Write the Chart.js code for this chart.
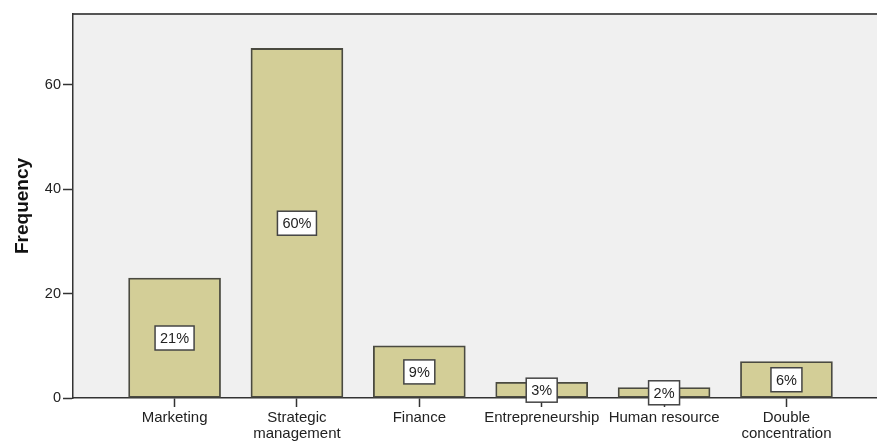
<!DOCTYPE html>
<html>
<head>
<meta charset="utf-8">
<script src="https://cdn.jsdelivr.net/npm/chart.js@4"></script>
<style>
  html, body { margin: 0; padding: 0; background: #fff; }
  #wrap { width: 877px; height: 441px; }
</style>
</head>
<body>
<div id="wrap"><canvas id="chart" width="877" height="441"></canvas></div>
<script>
// Concentration frequencies
var categories = [
  "Marketing",
  ["Strategic", "management"],
  "Finance",
  "Entrepreneurship",
  "Human resource",
  ["Double", "concentration"]
];
var frequencies = [23, 67, 10, 3, 2, 7];
var yTicks = [0, 20, 40, 60];
var yMax = 73.6;
var xMin = -0.83;
var xMax = 5.74;

var total = frequencies.reduce(function (a, b) { return a + b; }, 0);
var percentLabels = frequencies.map(function (v) { return Math.round(v / total * 100) + "%"; });

var FONT = "'Liberation Sans', Arial, sans-serif";
var AXIS = "#333333";

// grey plot background and the top frame line
var plotBackground = {
  id: "plotBackground",
  beforeDraw: function (chart) {
    var ctx = chart.ctx, a = chart.chartArea;
    ctx.save();
    ctx.fillStyle = "#ffffff";
    ctx.fillRect(0, 0, chart.width, chart.height);
    ctx.fillStyle = "#f0f0f0";
    ctx.fillRect(a.left, a.top, a.right - a.left, a.bottom - a.top);
    ctx.strokeStyle = "#555555";
    ctx.lineWidth = 2;
    ctx.beginPath();
    ctx.moveTo(a.left, a.top);
    ctx.lineTo(a.right, a.top);
    ctx.stroke();
    ctx.restore();
  }
};

// boxed percentage labels in the middle of each bar
var percentBoxes = {
  id: "percentBoxes",
  afterDatasetsDraw: function (chart) {
    var ctx = chart.ctx;
    var yScale = chart.scales.y;
    var meta = chart.getDatasetMeta(0);
    ctx.save();
    ctx.font = "14.5px " + FONT;
    ctx.textAlign = "center";
    ctx.textBaseline = "middle";
    meta.data.forEach(function (bar, i) {
      var cy = yScale.getPixelForValue(frequencies[i] / 2);
      var w = ctx.measureText(percentLabels[i]).width + 10;
      var h = 24;
      ctx.fillStyle = "#ffffff";
      ctx.fillRect(bar.x - w / 2, cy - h / 2, w, h);
      ctx.strokeStyle = "#444444";
      ctx.lineWidth = 1.5;
      ctx.strokeRect(bar.x - w / 2, cy - h / 2, w, h);
      ctx.fillStyle = "#222222";
      ctx.fillText(percentLabels[i], bar.x, cy + 1);
    });
    ctx.restore();
  }
};

new Chart(document.getElementById("chart"), {
  type: "bar",
  data: {
    datasets: [{
      label: "Frequency",
      data: frequencies.map(function (v, i) { return { x: i, y: v }; }),
      backgroundColor: "#d3ce97",
      borderColor: "#4a4a40",
      borderWidth: 1.8,
      borderSkipped: false,
      barThickness: 92
    }]
  },
  options: {
    responsive: false,
    animation: false,
    events: [],
    layout: { padding: { top: 14, right: 0, left: 0, bottom: 0 } },
    plugins: {
      legend: { display: false },
      tooltip: { enabled: false }
    },
    scales: {
      x: {
        type: "linear",
        min: xMin,
        max: xMax,
        offset: false,
        afterBuildTicks: function (scale) {
          scale.ticks = categories.map(function (c, i) { return { value: i }; });
        },
        afterFit: function (scale) { scale.height = 43; },
        ticks: {
          autoSkip: false,
          maxRotation: 0,
          padding: 3,
          color: "#222222",
          font: { family: FONT, size: 15, lineHeight: 1.08 },
          callback: function (value) { return categories[value]; }
        },
        grid: {
          offset: false,
          drawOnChartArea: false,
          drawTicks: true,
          tickLength: 9,
          tickWidth: 1.5,
          color: AXIS
        },
        border: { display: true, color: AXIS, width: 1.5 }
      },
      y: {
        min: 0,
        max: yMax,
        afterBuildTicks: function (scale) {
          scale.ticks = yTicks.map(function (v) { return { value: v }; });
        },
        afterFit: function (scale) { scale.width = 73; },
        title: {
          display: true,
          text: "Frequency",
          color: "#111111",
          font: { family: FONT, size: 19, weight: "bold" },
          padding: { top: 11, bottom: 0 }
        },
        ticks: {
          padding: 2,
          color: "#222222",
          font: { family: FONT, size: 14.5 }
        },
        grid: {
          drawOnChartArea: false,
          drawTicks: true,
          tickLength: 10,
          tickWidth: 1.5,
          color: AXIS
        },
        border: { display: true, color: AXIS, width: 1.5 }
      }
    }
  },
  plugins: [plotBackground, percentBoxes]
});
</script>
</body>
</html>
